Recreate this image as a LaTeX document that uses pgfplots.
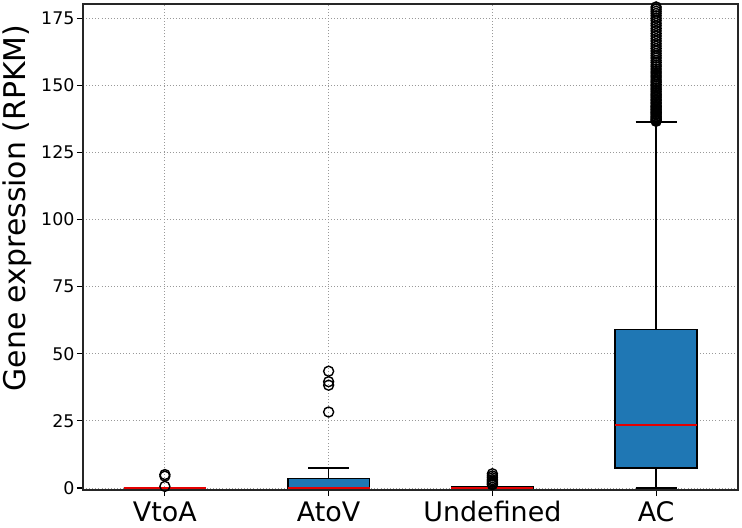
\documentclass[border=0pt]{standalone}
\usepackage{fontspec}
\setmainfont{DejaVu Sans}
\usepackage{pgfplots}
\pgfplotsset{compat=1.18}
\usepgfplotslibrary{statistics}
\definecolor{mplblue}{HTML}{1F77B4}
\begin{document}
\begin{tikzpicture}
\path[use as bounding box] (-83bp,-38bp) rectangle (659bp,490bp);
\begin{axis}[
  at={(0,0)}, anchor=south west,
  scale only axis, width=655bp, height=486bp,
  xmin=0.5, xmax=4.5, ymin=-0.75, ymax=180.3,
  xtick={1,2,3,4}, xticklabels={VtoA,AtoV,Undefined,AC},
  ytick={0,25,50,75,100,125,150,175},
  grid=major,
  grid style={dash pattern=on 0.9bp off 2.2bp, black!40, line width=0.9bp},
  axis line style={line width=1.2bp, black!85},
  tick align=outside, tick pos=left,
  major tick length=6bp,
  tick style={black, line width=1.1bp},
  /pgf/number format/assume math mode=true,
  xticklabel style={font=\fontsize{27}{30}\selectfont, yshift=-2bp},
  yticklabel style={font=\fontsize{17.5}{20}\selectfont, xshift=1bp},
  ylabel={Gene expression (RPKM)},
  ylabel style={font=\fontsize{30}{34}\selectfont, at={(axis description cs:-0.101,0.58)}, anchor=center, rotate=0},
  boxplot/draw direction=y,
  boxplot/box extend=0.5,
  boxplot/whisker extend=0.25,
  boxplot/every box/.style={draw=black, fill=mplblue, line width=1.7bp},
  boxplot/every whisker/.style={draw=black, line width=1.7bp},
  boxplot/every median/.style={draw=red!90!black, line width=1.7bp},
  clip=true,
]
% VtoA
\addplot[black, line width=1.7bp, mark=o, mark size=5bp, mark options={draw=black, fill=none, line width=1.4bp},
  boxplot prepared={draw position=1, lower whisker=0, lower quartile=0, median=0, upper quartile=0, upper whisker=0}]
  table[row sep=\\, y index=0] {y\\ 5.0\\ 4.4\\ 0.6\\};
% AtoV
\addplot[black, line width=1.7bp, mark=o, mark size=5bp, mark options={draw=black, fill=none, line width=1.4bp},
  boxplot prepared={draw position=2, lower whisker=0, lower quartile=0, median=0.1, upper quartile=3.5, upper whisker=7.5}]
  table[row sep=\\, y index=0] {y\\ 28.3\\ 38.3\\ 39.6\\ 43.5\\};
% Undefined
\addplot[black, line width=1.7bp, mark=o, mark size=5bp, mark options={draw=black, fill=none, line width=1.4bp},
  boxplot prepared={draw position=3, lower whisker=0, lower quartile=0, median=0.1, upper quartile=0.4, upper whisker=0.6}]
  table[row sep=\\, y index=0] {y\\ 1.2\\ 1.6\\ 2.1\\ 2.6\\ 3.1\\ 3.8\\ 4.5\\ 5.3\\};
% AC
\addplot[black, line width=1.7bp, mark=o, mark size=5bp, mark options={draw=black, fill=none, line width=1.4bp},
  boxplot prepared={draw position=4, lower whisker=0, lower quartile=7.4, median=23.5, upper quartile=59.0, upper whisker=136.3}]
  table[row sep=\\, y index=0] {y\\ 136.6\\ 137.0\\ 137.3\\ 137.7\\ 138.1\\ 138.5\\ 139.0\\ 139.4\\ 139.9\\ 140.3\\ 140.8\\ 141.2\\ 141.7\\ 142.1\\ 142.6\\ 143.2\\ 143.7\\ 144.3\\ 144.8\\ 145.4\\ 146.0\\ 146.5\\ 147.1\\ 147.8\\ 148.4\\ 149.0\\ 149.7\\ 150.3\\ 151.0\\ 151.6\\ 152.3\\ 153.1\\ 153.8\\ 154.6\\ 155.3\\ 156.1\\ 156.9\\ 157.6\\ 158.5\\ 159.3\\ 160.2\\ 161.0\\ 161.9\\ 162.8\\ 163.7\\ 164.6\\ 165.5\\ 166.5\\ 167.4\\ 168.4\\ 169.3\\ 170.3\\ 171.2\\ 172.2\\ 173.1\\ 174.1\\ 175.0\\ 175.9\\ 176.8\\ 177.6\\ 178.4\\ 179.2\\};
\end{axis}
\end{tikzpicture}
\end{document}
